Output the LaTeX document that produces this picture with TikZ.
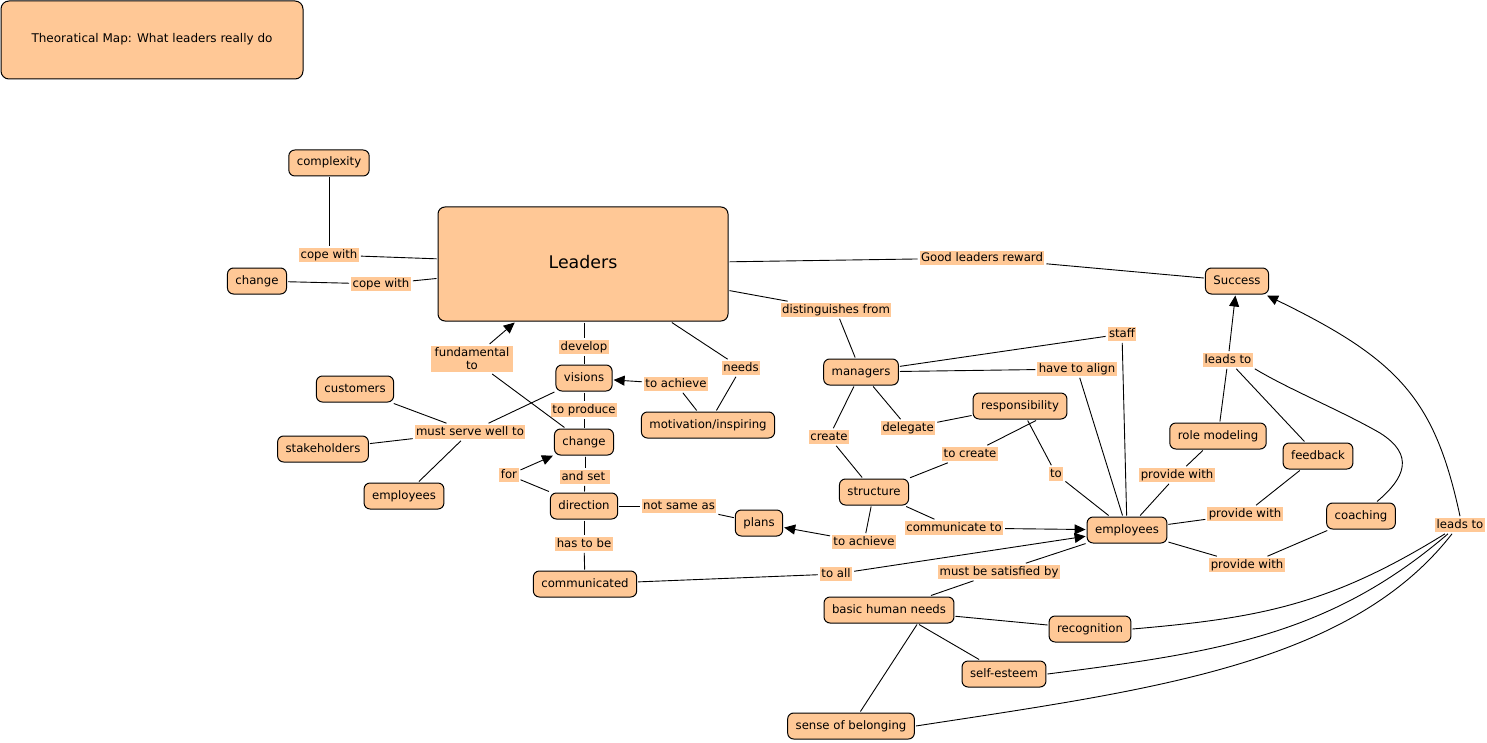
\documentclass[tikz,border=0pt]{standalone}
\usepackage{fontspec}
\setmainfont{DejaVu Sans}
\usetikzlibrary{arrows.meta,calc}
\definecolor{cf}{RGB}{255,200,150}
\begin{document}
\begin{tikzpicture}[x=1pt,y=-1pt,
  concept/.style={draw=black, line width=1pt, fill=cf, rounded corners=6pt,
    minimum height=26pt, inner xsep=8pt, inner ysep=2pt, text height=9pt, text depth=3pt,
    font=\fontsize{11.7}{13}\selectfont, outer sep=1.5pt},
  lbl/.style={fill=cf, inner xsep=1.5pt, inner ysep=0.5pt, text height=9.6pt, text depth=3pt,
    font=\fontsize{11.7}{13}\selectfont, outer sep=2pt},
  link/.style={line width=0.9pt},
  arr/.style={line width=0.9pt, -{Triangle[length=11pt,width=10pt]}}]
\useasboundingbox (0,0) rectangle (1487,743);

% concepts
\node[concept, minimum width=302pt, minimum height=78pt, rounded corners=8pt,
  font=\fontsize{12}{14}\selectfont] (title) at (152,40) {Theoratical Map: What leaders really do};
\node[concept, minimum width=290pt, minimum height=114pt, rounded corners=7pt,
  font=\fontsize{17.4}{20}\selectfont, text height=13pt, text depth=4pt] (leaders) at (583,264) {Leaders};
\node[concept] (complexity) at (329,163) {complexity};
\node[concept] (changeA) at (257,281) {change};
\node[concept] (success) at (1237,281) {Success};
\node[concept] (customers) at (355,389) {customers};
\node[concept] (stakeholders) at (323,449) {stakeholders};
\node[concept] (employeesA) at (404,496) {employees};
\node[concept] (visions) at (584,378) {visions};
\node[concept] (changeB) at (584,442) {change};
\node[concept] (direction) at (584,506) {direction};
\node[concept] (plans) at (759,523) {plans};
\node[concept] (communicated) at (585,584) {communicated};
\node[concept] (motivation) at (708,425) {motivation/inspiring};
\node[concept] (managers) at (861,372) {managers};
\node[concept] (responsibility) at (1020,406) {responsibility};
\node[concept] (structure) at (874,492) {structure};
\node[concept] (employeesB) at (1127,530) {employees};
\node[concept] (rolemodeling) at (1218,436) {role modeling};
\node[concept] (feedback) at (1318,456) {feedback};
\node[concept] (coaching) at (1361,516) {coaching};
\node[concept] (bhn) at (889,610) {basic human needs};
\node[concept] (recognition) at (1090,629) {recognition};
\node[concept] (selfesteem) at (1004,674) {self-esteem};
\node[concept] (belonging) at (851,726) {sense of belonging};

% linking phrases
\node[lbl] (l1) at (329,255) {cope with};
\node[lbl] (l2) at (381,284) {cope with};
\node[lbl] (l3) at (982,258) {Good leaders reward};
\node[lbl] (l4) at (836,310) {distinguishes from};
\node[lbl] (l5) at (584,347) {develop};
\node[lbl, minimum width=82pt, minimum height=26pt, align=center, text height=, text depth=,
  font=\fontsize{11.7}{13}\selectfont] (l6) at (472,359) {fundamental\\to};
\node[lbl] (l7) at (741,368) {needs};
\node[lbl] (l8) at (676,384) {to achieve};
\node[lbl] (l9) at (584,410) {to produce};
\node[lbl] (l10) at (470,432) {must serve well to};
\node[lbl] (l11) at (509,475) {for};
\node[lbl] (l12) at (585,477) {and set\phantom{i}};
\node[lbl] (l13) at (679,506) {not same as};
\node[lbl] (l14) at (584,544) {has to be};
\node[lbl] (l15) at (836,574) {to all};
\node[lbl] (l16) at (1122,334) {staff};
\node[lbl] (l17) at (1077,369) {have to align};
\node[lbl] (l18) at (829,437) {create};
\node[lbl] (l19) at (908,428) {delegate};
\node[lbl] (l20) at (970,454) {to create};
\node[lbl] (l21) at (1056,474) {to};
\node[lbl] (l22) at (954,528) {communicate to};
\node[lbl] (l23) at (864,542) {to achieve};
\node[lbl] (l24) at (1228,360) {leads to};
\node[lbl] (l25) at (1177,475) {provide with};
\node[lbl] (l26) at (1245,514) {provide with};
\node[lbl] (l27) at (1247,565) {provide with};
\node[lbl] (l28) at (999,572) {must be satisfied by};
\node[lbl] (l29) at (1460,525) {leads to};

% connectors
\draw[link] (complexity) -- (l1);
\draw[link] (l1) -- (leaders);
\draw[link] (changeA) -- (l2);
\draw[link] (l2) -- (leaders);
\draw[link] (leaders) -- (l3);
\draw[link] (l3) -- (success);
\draw[link] (leaders) -- (l4);
\draw[link] (l4) -- (managers);
\draw[link] (l5 |- leaders.south) -- (l5);
\draw[link] (l5) -- (visions);
\draw[link] (changeB) -- (l6);
\draw[arr] (l6) -- (leaders);
\draw[link] (leaders) -- (l7);
\draw[link] (l7) -- (motivation);
\draw[link] (motivation) -- (l8);
\draw[arr] (l8) -- (visions);
\draw[link] (visions) -- (l9);
\draw[link] (l9) -- (changeB);
\draw[link] (visions) -- (l10);
\draw[link] (l10) -- (customers);
\draw[link] (l10) -- (stakeholders);
\draw[link] (l10) -- (employeesA);
\draw[link] (changeB) -- (l12 |- changeB.south);
\draw[link] (l12 |- changeB.south) -- (l12);
\draw[link] (l12) -- (direction);
\draw[link] (direction) -- (l11);
\draw[arr] (l11) -- (changeB);
\draw[link] (direction) -- (l13);
\draw[link] (l13) -- (plans);
\draw[link] (structure) -- (l23);
\draw[arr] (l23) -- (plans);
\draw[link] (direction) -- (l14);
\draw[link] (l14) -- (communicated);
\draw[link] (communicated) -- (l15);
\draw[arr] (l15) -- (employeesB);
\draw[link] (managers) -- (l16);
\draw[link] (l16) -- (employeesB);
\draw[link] (managers) -- (l17);
\draw[link] (l17) -- (employeesB);
\draw[link] (managers) -- (l18);
\draw[link] (l18) -- (structure);
\draw[link] (managers) -- (l19);
\draw[link] (l19) -- (responsibility);
\draw[link] ($(responsibility.south)+(16,0)$) -- (l20);
\draw[link] (l20) -- (structure);
\draw[link] (responsibility) -- (l21);
\draw[link] (l21) -- (employeesB);
\draw[link] (structure) -- (l22);
\draw[arr] (l22) -- (employeesB);
\draw[link] (rolemodeling) -- (l24);
\draw[arr] (l24) -- (success);
\draw[link] (feedback) -- (l24);
\draw[link] ($(coaching.north)+(16,0)$) .. controls (1405,478) and (1415,455) .. (1380,433)
  .. controls (1340,410) and (1290,390) .. (l24.south east);
\draw[link] (employeesB) -- (l25);
\draw[link] (l25) -- (rolemodeling);
\draw[link] (employeesB) -- (l26);
\draw[link] (l26) -- (feedback);
\draw[link] (employeesB) -- (l27);
\draw[link] (l27) -- (coaching);
\draw[link] (employeesB) -- (l28);
\draw[link] (l28) -- (bhn);
\draw[link] (bhn) -- (recognition);
\draw[link] ($(bhn.south)+(30,0)$) -- (selfesteem);
\draw[link] ($(bhn.south)+(28,0)$) -- (belonging);
\draw[link] (recognition.east) .. controls (1260,618) and (1330,605) .. ($(l29.south)+(-15,0)$);
\draw[link] (selfesteem.east) .. controls (1220,652) and (1330,635) .. ($(l29.south)+(-12,0)$);
\draw[link] (belonging.east) .. controls (1150,690) and (1350,665) .. ($(l29.south)+(-8,0)$);
\draw[arr] (l29.north) .. controls (1435,400) and (1400,360) .. ($(success.south east)+(-3,0)$);
\end{tikzpicture}
\end{document}
